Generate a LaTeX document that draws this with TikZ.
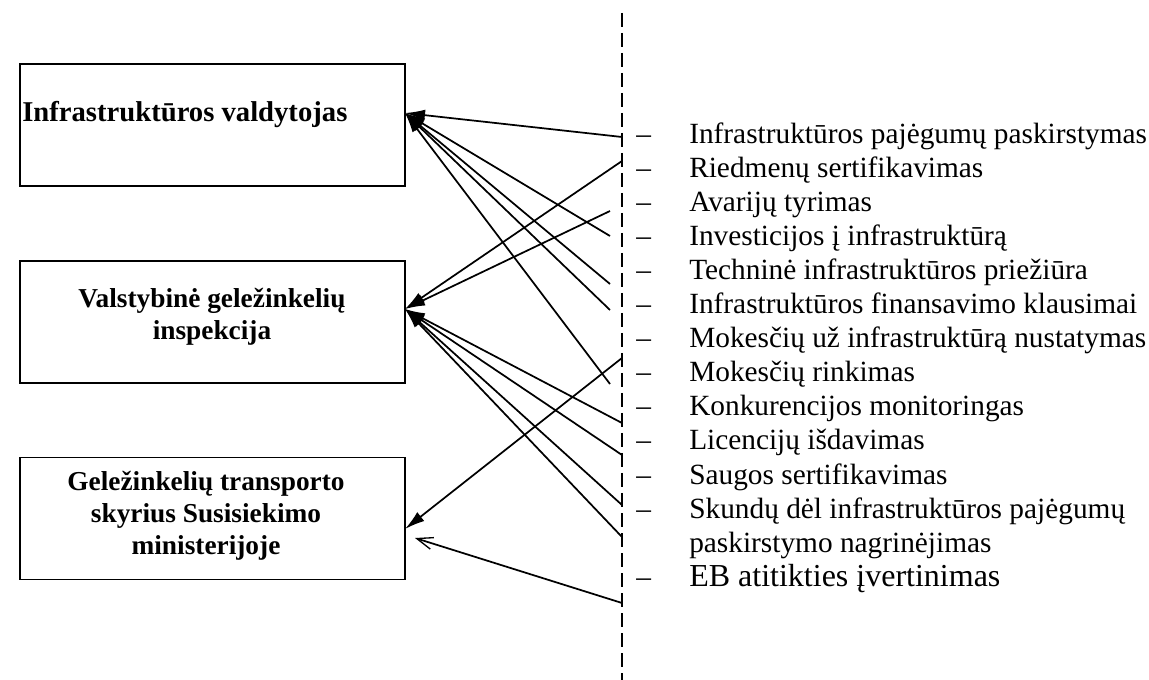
\documentclass[tikz,border=0pt]{standalone}
\usepackage{fontspec}
\setmainfont{Liberation Serif}
\usetikzlibrary{arrows.meta}
\begin{document}
\begin{tikzpicture}[x=0.75pt,y=-0.75pt,
  boxstyle/.style={draw,line width=1.3pt,minimum width=288.75pt,minimum height=91.5pt,inner sep=0pt},
  boldtext/.style={font=\fontsize{20.5}{24}\selectfont\bfseries,align=center,inner sep=0pt},
  itemtext/.style={font=\fontsize{22}{25}\selectfont,anchor=base west,inner sep=0pt},
  ebtext/.style={font=\fontsize{24}{28}\selectfont,anchor=base west,inner sep=0pt},
  conn/.style={line width=1.3pt,-{Latex[length=15pt,width=8.5pt]}},
  openconn/.style={line width=1.3pt,-{Straight Barb[length=12pt,width=9pt,line width=1pt]}},
  divider/.style={line width=1.5pt,dash pattern=on 10.5pt off 4.5pt}]
\useasboundingbox (0,0) rectangle (1149,680);

% boxes
\node[boxstyle] (b1) at (212.5,125) {};
\node[boxstyle] (b2) at (212.5,322) {};
\node[boxstyle] (b3) at (212.5,518.5) {};
\node[boldtext,font=\fontsize{21.5}{24}\selectfont\bfseries,anchor=west] (t1) at (22,115) {Infrastruktūros valdytojas};
\node[boldtext] (t2) at (212,317) {Valstybinė geležinkelių\\inspekcija};
\node[boldtext] (t3) at (206,516) {Geležinkelių transporto\\skyrius Susisiekimo\\ministerijoje};

% divider
\coordinate (dtop) at (622,13);
\coordinate (dbot) at (622,680);
\draw[divider] (dtop) -- (dbot);

% list
\foreach \i/\t in {0/Infrastruktūros pajėgumų paskirstymas,
                   1/Riedmenų sertifikavimas,
                   2/Avarijų tyrimas,
                   3/Investicijos į infrastruktūrą,
                   4/Techninė infrastruktūros priežiūra,
                   5/Infrastruktūros finansavimo klausimai,
                   6/Mokesčių už infrastruktūrą nustatymas,
                   7/Mokesčių rinkimas,
                   8/Konkurencijos monitoringas,
                   9/Licencijų išdavimas,
                   10/Saugos sertifikavimas,
                   11/Skundų dėl infrastruktūros pajėgumų}{
  \node[itemtext] (d\i) at (636,144+34*\i) {–};
  \node[itemtext] (l\i) at (689,144+34*\i) {\t};
}
\node[itemtext] (l12) at (689,552) {paskirstymo nagrinėjimas};
\node[itemtext] (d13) at (636,586) {–};
\node[ebtext] (l13) at (689,586) {EB atitikties įvertinimas};

% arrow targets
\coordinate (a1) at (405,113);
\coordinate (a2) at (405,309);
\coordinate (a3) at (405,529);
\coordinate (a4) at (415,538);

% arrow sources
\coordinate (s1) at (622,137);
\coordinate (s2) at (622,161);
\coordinate (s3) at (610,211);
\coordinate (s4) at (610,236);
\coordinate (s5) at (610,284);
\coordinate (s6) at (610,310);
\coordinate (s7) at (622,358);
\coordinate (s8) at (610,384);
\coordinate (s9) at (622,423);
\coordinate (s10) at (622,455);
\coordinate (s11) at (622,505);
\coordinate (s12) at (622,537);
\coordinate (s13) at (622,603);

\foreach \s in {s1,s4,s5,s6,s8} \draw[conn] (\s) -- (a1);
\foreach \s in {s2,s3,s9,s10,s11,s12} \draw[conn] (\s) -- (a2);
\draw[conn] (s7) -- (a3);
\draw[openconn] (s13) -- (a4);
\end{tikzpicture}
\end{document}
